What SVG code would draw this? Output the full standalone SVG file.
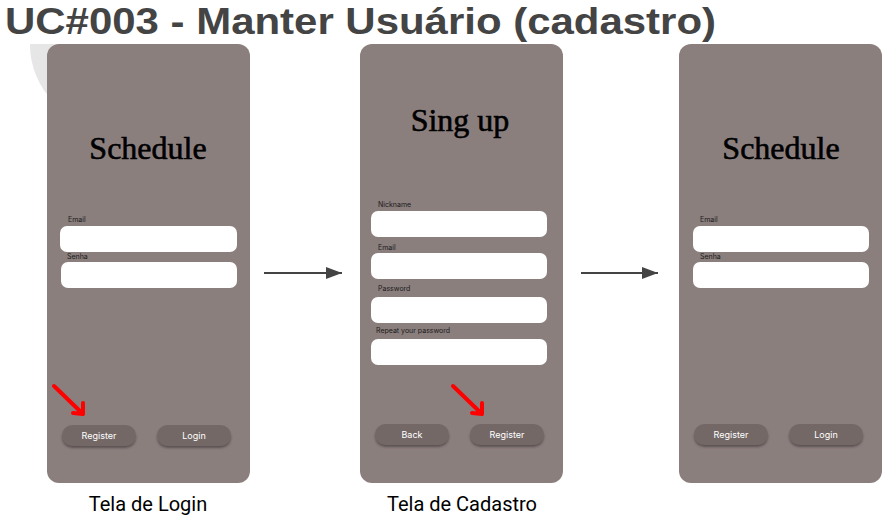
<svg xmlns="http://www.w3.org/2000/svg" width="895" height="528" viewBox="0 0 895 528">
<style>
.phone{fill:#8b7f7e}
.field{fill:#ffffff}
.lbl{font-family:Inter,"Liberation Sans",sans-serif;font-size:7px;fill:#1a1a1a}
.head{font-family:"Liberation Serif",serif;font-size:32px;fill:#000;stroke:#000;stroke-width:0.6;text-anchor:middle}
.btn{fill:#736866;filter:url(#sh)}
.btxt{font-family:Inter,"Liberation Sans",sans-serif;font-size:9px;fill:#ffffff;text-anchor:middle}
.cap{font-family:Roboto,"Liberation Sans",sans-serif;font-size:20px;fill:#000;text-anchor:middle}
.conn{stroke:#444;stroke-width:2;fill:none}
.red{stroke:#ff0000;stroke-width:4;fill:none;stroke-linecap:round;stroke-linejoin:round}
</style>
<defs>
<filter id="sh" x="-20%" y="-30%" width="140%" height="180%">
<feDropShadow dx="0" dy="2" stdDeviation="1" flood-color="#3a3030" flood-opacity="0.6"/>
</filter>
<marker id="ah" markerWidth="8" markerHeight="6" refX="8" refY="3" orient="auto" markerUnits="strokeWidth">
<path d="M0,0 L8,3 L0,6 Z" fill="#444"/>
</marker>
<clipPath id="cc"><rect x="0" y="44" width="300" height="200"/></clipPath>
</defs>
<rect width="895" height="528" fill="#ffffff"/>
<circle cx="110" cy="45" r="80" fill="#e6e6e6" clip-path="url(#cc)"/>
<text x="5" y="34" font-family="'Liberation Sans',Arial,sans-serif" font-weight="700" font-size="37" fill="#444444" textLength="711" lengthAdjust="spacingAndGlyphs">UC#003 - Manter Usuário (cadastro)</text>

<g id="connectors">
<line class="conn" x1="264" y1="273" x2="342" y2="273" marker-end="url(#ah)"/>
<line class="conn" x1="581" y1="273" x2="658" y2="273" marker-end="url(#ah)"/>
</g>

<g id="tela-login">
<rect class="phone" x="47" y="44" width="203" height="439" rx="12"/>
<text class="head" x="148" y="159">Schedule</text>
<text class="lbl" x="68" y="222">Email</text>
<rect class="field" x="60" y="226" width="177" height="26" rx="7"/>
<text class="lbl" x="67" y="259">Senha</text>
<rect class="field" x="61" y="262" width="176" height="26" rx="7"/>
<g id="btn-register-1"><rect class="btn" x="62" y="425" width="74" height="21" rx="10.5"/><text class="btxt" x="99" y="439">Register</text></g>
<g id="btn-login-1"><rect class="btn" x="157" y="425" width="74" height="21" rx="10.5"/><text class="btxt" x="194" y="439">Login</text></g>
<path class="red" d="M54,386 L83,414 M73,413 L83,414 L83,403"/>
<text class="cap" x="148" y="511">Tela de Login</text>
</g>

<g id="tela-cadastro">
<rect class="phone" x="360" y="44" width="203" height="439" rx="12"/>
<text class="head" x="460" y="131">Sing up</text>
<text class="lbl" x="378" y="207">Nickname</text>
<rect class="field" x="371" y="211" width="176" height="26" rx="7"/>
<text class="lbl" x="378" y="250">Email</text>
<rect class="field" x="371" y="253" width="176" height="26" rx="7"/>
<text class="lbl" x="378" y="291">Password</text>
<rect class="field" x="371" y="297" width="176" height="26" rx="7"/>
<text class="lbl" x="376" y="333">Repeat your password</text>
<rect class="field" x="371" y="339" width="176" height="26" rx="7"/>
<g id="btn-back"><rect class="btn" x="375" y="424" width="74" height="21" rx="10.5"/><text class="btxt" x="412" y="438">Back</text></g>
<g id="btn-register-2"><rect class="btn" x="470" y="424" width="74" height="21" rx="10.5"/><text class="btxt" x="507" y="438">Register</text></g>
<path class="red" d="M453,386 L482,414 M472,413 L482,414 L482,403"/>
<text class="cap" x="462" y="511">Tela de Cadastro</text>
</g>

<g id="tela-login-final">
<rect class="phone" x="679" y="44" width="203" height="439" rx="12"/>
<text class="head" x="781" y="159">Schedule</text>
<text class="lbl" x="700" y="222">Email</text>
<rect class="field" x="693" y="226" width="176" height="26" rx="7"/>
<text class="lbl" x="700" y="259">Senha</text>
<rect class="field" x="693" y="262" width="176" height="26" rx="7"/>
<g id="btn-register-3"><rect class="btn" x="694" y="424" width="74" height="21" rx="10.5"/><text class="btxt" x="731" y="438">Register</text></g>
<g id="btn-login-3"><rect class="btn" x="789" y="424" width="74" height="21" rx="10.5"/><text class="btxt" x="826" y="438">Login</text></g>
</g>
</svg>
